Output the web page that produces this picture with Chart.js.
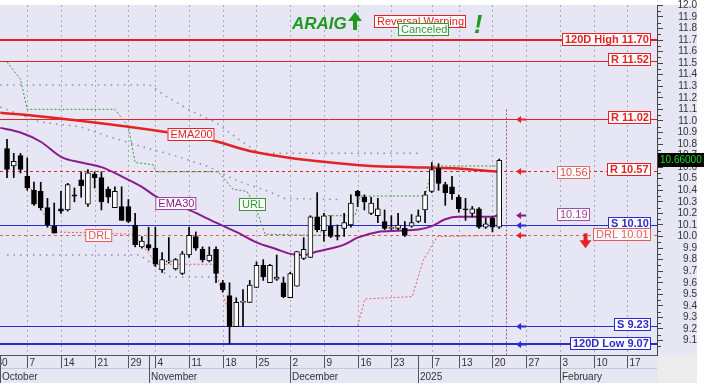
<!DOCTYPE html>
<html>
<head>
<meta charset="utf-8">
<script src="https://cdn.jsdelivr.net/npm/chart.js@4.4.1/dist/chart.umd.min.js"></script>
<style>
  html, body { margin: 0; padding: 0; background: #fff; }
  canvas { display: block; }
</style>
</head>
<body>
<canvas id="chart" width="704" height="390"></canvas>
<script>
// daily candles, index 0 = 2 Oct 2024 (trading days)
const opens  = [10.76, 10.61, 10.70, 10.52, 10.40, 10.39, 10.25, 10.09, 10.24, 10.23,
                10.36, 10.49, 10.28, 10.54, 10.51, 10.41, 10.25, 10.26, 10.26, 10.10,
                9.91, 9.93, 9.90, 9.71, 9.78, 9.72, 9.68, 9.84, 10.00, 9.89,
                9.79, 9.89, 9.60, 9.49, 9.22, 9.43, 9.43, 9.56, 9.75, 9.60,
                9.63, 9.60, 9.47, 9.57, 9.81, 9.82, 10.17, 10.05, 10.09, 10.01,
                10.07, 10.10, 10.39, 10.34, 10.20, 10.18, 10.13, 10.07, 10.07, 10.07,
                10.09, 10.13, 10.23, 10.39, 10.59, 10.45, 10.43, 10.34, 10.24, 10.20,
                10.24, 10.08, 10.16, 10.08];
const highs  = [10.84, 10.72, 10.72, 10.68, 10.47, 10.47, 10.33, 10.29, 10.39, 10.46,
                10.42, 10.56, 10.58, 10.56, 10.56, 10.43, 10.43, 10.43, 10.32, 10.20,
                10.00, 10.08, 10.08, 9.86, 9.99, 9.81, 9.87, 10.08, 10.04, 9.91,
                9.91, 9.91, 9.62, 9.60, 9.47, 9.54, 9.62, 9.78, 9.80, 9.76,
                9.84, 9.65, 9.69, 9.87, 9.99, 10.18, 10.38, 10.20, 10.18, 10.10,
                10.20, 10.36, 10.40, 10.36, 10.34, 10.33, 10.23, 10.18, 10.20, 10.13,
                10.19, 10.23, 10.39, 10.64, 10.63, 10.47, 10.52, 10.36, 10.33, 10.26,
                10.25, 10.16, 10.17, 10.67];
const lows   = [10.51, 10.51, 10.55, 10.40, 10.27, 10.23, 10.08, 10.03, 10.20, 10.22,
                10.30, 10.34, 10.26, 10.42, 10.23, 10.29, 10.25, 10.14, 10.12, 9.91,
                9.90, 9.88, 9.74, 9.69, 9.77, 9.71, 9.67, 9.82, 9.88, 9.78,
                9.78, 9.60, 9.52, 9.07, 9.22, 9.22, 9.43, 9.56, 9.62, 9.60,
                9.62, 9.47, 9.47, 9.57, 9.80, 9.82, 10.04, 9.96, 9.99, 9.97,
                10.00, 10.08, 10.26, 10.23, 10.19, 10.12, 10.06, 10.06, 10.06, 10.00,
                10.08, 10.12, 10.12, 10.38, 10.40, 10.27, 10.32, 10.21, 10.14, 10.17,
                10.07, 10.07, 10.04, 10.07];
const closes = [10.58, 10.65, 10.58, 10.42, 10.28, 10.25, 10.10, 10.03, 10.22, 10.45,
                10.35, 10.44, 10.55, 10.51, 10.30, 10.34, 10.39, 10.14, 10.13, 9.93,
                9.96, 9.90, 9.76, 9.80, 9.79, 9.80, 9.85, 10.01, 9.90, 9.80,
                9.84, 9.68, 9.54, 9.22, 9.43, 9.44, 9.58, 9.75, 9.65, 9.75,
                9.65, 9.48, 9.68, 9.87, 9.89, 10.17, 10.06, 10.18, 10.00, 10.00,
                10.12, 10.29, 10.35, 10.30, 10.29, 10.24, 10.07, 10.08, 10.10, 10.01,
                10.12, 10.18, 10.36, 10.58, 10.46, 10.38, 10.37, 10.24, 10.23, 10.24,
                10.08, 10.11, 10.08, 10.66];

// indicator lines, vertices (day index, price)
const ema200Idx = [-1, 4, 18, 24, 30, 36, 42, 48, 54, 60, 66, 73];
const ema200Val = [11.07, 11.045, 10.95, 10.90, 10.84, 10.74, 10.68, 10.64, 10.61, 10.60, 10.59, 10.56];
const ema30Idx  = [-1, 2, 5, 8, 11, 14, 17, 20, 22, 27, 31, 34, 37, 40, 42, 44, 46, 50, 52, 55, 58, 61, 63, 65, 67, 69, 71, 72, 73];
const ema30Val  = [10.94, 10.90, 10.82, 10.69, 10.64, 10.60, 10.52, 10.43, 10.35, 10.23, 10.12, 10.04, 9.95, 9.89, 9.85,
                   9.84, 9.87, 9.93, 9.99, 10.04, 10.05, 10.06, 10.09, 10.15, 10.17, 10.17, 10.17, 10.17, 10.19];
const urlIdx = [0, 2, 3, 16, 18, 19, 21.7, 22.1, 31.3, 33.5, 35.6, 36.8, 38.3, 46.4, 47.2, 51.6, 52.4, 62, 63.1, 73];
const urlVal = [11.51, 11.36, 11.10, 11.10, 10.95, 10.64, 10.62, 10.56, 10.56, 10.41, 10.39, 10.26, 10.02, 10.01, 10.18, 10.18, 10.35, 10.35, 10.61, 10.61];
const drlIdx = [2.7, 6.8, 18.7, 22.3, 30.6, 33.5, 40, 52, 53.1, 60.1, 61.7, 63.8, 73];
const drlVal = [10.51, 10.04, 10.02, 9.76, 9.76, 9.23, null, 9.23, 9.46, 9.48, 9.79, 10.00, 10.01];
const band1Idx = [-1, 21.2, 23.4, 27.2, 30.9, 34.6, 37.5, 61.3];
const band1Val = [11.31, 11.31, 11.22, 11.09, 10.99, 10.83, 10.72, 10.72];
const band2Idx = [-1, 4.9, 10.8, 15.3, 20.5, 24.9, 30.1, 33.8, 38.3, 41.2, 49.4];
const band2Val = [11.12, 10.99, 10.95, 10.86, 10.77, 10.70, 10.60, 10.49, 10.40, 10.33, 10.32];
const band3Idx = [0, 19.7, 24.2, 30.9];
const band3Val = [9.84, 9.84, 9.65, 9.65];

// horizontal levels
const levelVals  = [11.70, 11.52, 11.02, 10.57, 10.10, 10.01, 9.23, 9.07];
const levelNames = ['120D High', 'R', 'R', 'R', 'S', 'DRL', 'S', '120D Low'];

// axis labels
const dayTickIdx    = [-2, 3, 8, 13, 18, 22, 27, 32, 37, 42, 47, 52, 57, 63, 67, 72, 77, 82, 87, 92];
const dayTickLabels = ['30', '7', '14', '21', '29', '4', '11', '18', '25', '2', '9', '16', '23', '7', '13', '20', '27', '3', '10', '17'];
const monthIdx      = [-1.04, 21, 42, 61, 82];
const monthLabels   = ['October', 'November', 'December', '2025', 'February'];
const yTicks = [9.1, 9.2, 9.3, 9.4, 9.5, 9.6, 9.7, 9.8, 9.9, 10.0, 10.1, 10.2, 10.3, 10.4, 10.5,
                10.6, 10.7, 10.8, 10.9, 11.0, 11.1, 11.2, 11.3, 11.4, 11.5, 11.6, 11.7, 11.8, 11.9, 12.0];

const FONT = '"Liberation Sans", Arial, sans-serif';
const RED = '#e52222', BLUE = '#2b2bd0', PURPLE = '#8a1c8a', GREEN = '#2f9a2f';

// style for each level (same order as levelVals)
const levelStyle = [
  { color: RED,  width: 2, dash: [],     bold: true,  arrow: false },
  { color: RED,  width: 1, dash: [],     bold: true,  arrow: false },
  { color: RED,  width: 1, dash: [],     bold: true,  arrow: true },
  { color: RED,  width: 1, dash: [3, 3], bold: true,  arrow: true },
  { color: BLUE, width: 1, dash: [],     bold: true,  arrow: true },
  { color: '#e65a5a', width: 1, dash: [3, 3], bold: false, arrow: true },
  { color: BLUE, width: 1, dash: [],     bold: true,  arrow: true },
  { color: BLUE, width: 2, dash: [],     bold: true,  arrow: true }
];

const pts = (xs, ys) => xs.map((x, k) => ({ x: x, y: ys[k] }));

function lineSet(label, xs, ys, color, width, dash, order, smooth) {
  return {
    type: 'line', label: label, data: pts(xs, ys),
    borderColor: color, borderWidth: width, borderDash: dash,
    pointRadius: 0, fill: false, spanGaps: false, order: order,
    cubicInterpolationMode: smooth ? 'monotone' : 'default', tension: 0
  };
}

function labelBox(ctx, text, x, yc, color, textColor, bold, alignRight) {
  ctx.save();
  ctx.font = (bold ? 'bold ' : '') + '11px ' + FONT;
  const w = Math.round(ctx.measureText(text).width) + 5;
  const left = alignRight ? x - w : x;
  const top = Math.round(yc - 6.5);
  ctx.fillStyle = '#fff';
  ctx.fillRect(left, top, w, 13);
  ctx.strokeStyle = color;
  ctx.lineWidth = 1;
  ctx.setLineDash([]);
  ctx.strokeRect(left + 0.5, top + 0.5, w - 1, 12);
  ctx.fillStyle = textColor;
  ctx.textBaseline = 'middle';
  ctx.textAlign = 'left';
  ctx.fillText(text, left + 3, top + 7);
  ctx.restore();
}

function leftArrow(ctx, x, y, color) {
  ctx.save();
  ctx.fillStyle = color;
  ctx.strokeStyle = color;
  ctx.lineWidth = 2;
  ctx.beginPath(); ctx.moveTo(x + 3, y); ctx.lineTo(x + 10, y); ctx.stroke();
  ctx.beginPath(); ctx.moveTo(x, y); ctx.lineTo(x + 5, y - 3.5); ctx.lineTo(x + 5, y + 3.5); ctx.closePath(); ctx.fill();
  ctx.restore();
}

const overlay = {
  id: 'overlay',
  beforeDraw(chart) {
    const { ctx, chartArea: a } = chart;
    ctx.save();
    ctx.fillStyle = '#fff';
    ctx.fillRect(0, 0, chart.width, chart.height);
    ctx.fillStyle = '#e6e6f5';
    ctx.fillRect(0, a.top, 697, 383 - a.top);
    ctx.fillStyle = '#ececec';
    ctx.fillRect(a.right + 1, a.bottom, 697 - a.right - 1, 383 - a.bottom);
    ctx.restore();
  },
  beforeDatasetsDraw(chart) {
    const { ctx, chartArea: a, scales: { x, y } } = chart;
    ctx.save();
    ctx.beginPath(); ctx.rect(a.left, a.top, a.right - a.left, a.bottom - a.top); ctx.clip();
    // vertical grid
    ctx.strokeStyle = '#a9a9bb';
    ctx.lineWidth = 1;
    ctx.setLineDash([2, 3]);
    dayTickIdx.forEach(i => {
      const px = Math.round(x.getPixelForValue(i)) + 0.5;
      ctx.beginPath(); ctx.moveTo(px, a.top); ctx.lineTo(px, a.bottom); ctx.stroke();
    });
    // projection line
    const vx = Math.round(x.getPixelForValue(74)) + 0.5;
    ctx.strokeStyle = '#a0508a';
    ctx.setLineDash([2, 2]);
    ctx.beginPath(); ctx.moveTo(vx, y.getPixelForValue(11.1)); ctx.lineTo(vx, a.bottom); ctx.stroke();
    // level lines
    levelVals.forEach((v, k) => {
      const s = levelStyle[k];
      const py = Math.round(y.getPixelForValue(v)) + (s.width === 1 ? 0.5 : 0);
      ctx.strokeStyle = s.color;
      ctx.lineWidth = s.width;
      ctx.setLineDash(s.dash);
      ctx.beginPath(); ctx.moveTo(a.left, py); ctx.lineTo(a.right, py); ctx.stroke();
    });
    ctx.restore();
  },
  afterDatasetsDraw(chart) {
    const { ctx, chartArea: a, scales: { x, y } } = chart;
    const ax = x.getPixelForValue(75.5);
    // level labels and arrows
    levelVals.forEach((v, k) => {
      const s = levelStyle[k];
      const py = y.getPixelForValue(v);
      labelBox(ctx, levelNames[k] + ' ' + v.toFixed(2), a.right - 6, py - 1, s.color, s.color, s.bold, true);
      if (s.arrow) leftArrow(ctx, ax, Math.round(py) + 0.5, s.color === '#e65a5a' ? RED : s.color);
    });
    // current indicator values
    const e200 = ema200Val[ema200Val.length - 1];
    const e30 = ema30Val[ema30Val.length - 1];
    labelBox(ctx, e200.toFixed(2), a.right - 100, y.getPixelForValue(e200) + 1, '#e86a6a', '#e05050', false, false);
    labelBox(ctx, e30.toFixed(2), a.right - 100, y.getPixelForValue(e30), '#a050a0', '#a040a0', false, false);
    leftArrow(ctx, ax, Math.round(y.getPixelForValue(e30)) + 0.5, PURPLE);
    // line labels
    labelBox(ctx, 'EMA200', x.getPixelForValue(23.8), y.getPixelForValue(10.885), RED, RED, false, false);
    labelBox(ctx, 'EMA30', x.getPixelForValue(22), y.getPixelForValue(10.29), '#a040a0', PURPLE, false, false);
    labelBox(ctx, 'URL', x.getPixelForValue(34.4), y.getPixelForValue(10.28), GREEN, GREEN, false, false);
    labelBox(ctx, 'DRL', x.getPixelForValue(11.6), y.getPixelForValue(10.01), '#e65a5a', '#e65a5a', false, false);
    // big red down arrow
    const dx = x.getPixelForValue(85.8), dy = y.getPixelForValue(10.01);
    ctx.save();
    ctx.fillStyle = RED;
    ctx.fillRect(dx - 2, dy - 2, 4, 8);
    ctx.beginPath(); ctx.moveTo(dx - 6, dy + 5); ctx.lineTo(dx + 6, dy + 5); ctx.lineTo(dx, dy + 13); ctx.closePath(); ctx.fill();
    ctx.restore();
  },
  afterDraw(chart) {
    const { ctx, chartArea: a, scales: { x, y } } = chart;
    ctx.save();
    // x-axis band
    ctx.fillStyle = '#e6e6f5';
    ctx.fillRect(0, a.bottom, a.right, 383 - a.bottom);
    ctx.strokeStyle = '#555';
    ctx.lineWidth = 1;
    ctx.beginPath(); ctx.moveTo(0, a.bottom + 0.5); ctx.lineTo(a.right, a.bottom + 0.5); ctx.stroke();
    ctx.strokeStyle = '#c8c8d8';
    ctx.beginPath(); ctx.moveTo(0, a.bottom + 13.5); ctx.lineTo(a.right, a.bottom + 13.5); ctx.stroke();
    ctx.beginPath(); ctx.rect(0, a.bottom, a.right, 390 - a.bottom); ctx.clip();
    ctx.font = '10px ' + FONT;
    ctx.textBaseline = 'alphabetic';
    ctx.strokeStyle = '#555';
    dayTickIdx.forEach((i, k) => {
      const px = Math.round(x.getPixelForValue(i)) + 0.5;
      ctx.beginPath(); ctx.moveTo(px, a.bottom); ctx.lineTo(px, a.bottom + 13); ctx.stroke();
      ctx.fillStyle = '#333';
      ctx.fillText(dayTickLabels[k], px + 2, a.bottom + 11);
    });
    monthIdx.forEach((i, k) => {
      const px = Math.round(x.getPixelForValue(i)) + 0.5;
      ctx.beginPath(); ctx.moveTo(px, a.bottom); ctx.lineTo(px, a.bottom + 28); ctx.stroke();
      ctx.fillStyle = '#333';
      ctx.fillText(monthLabels[k], px + 1.5, a.bottom + 25);
    });
    ctx.restore();

    // minor ticks on the price axis
    ctx.save();
    ctx.strokeStyle = '#444';
    ctx.lineWidth = 1;
    yTicks.forEach(v => {
      const py = Math.round(y.getPixelForValue(v - 0.05)) + 0.5;
      ctx.beginPath(); ctx.moveTo(a.right, py); ctx.lineTo(a.right + 4, py); ctx.stroke();
    });
    // last price tag
    const last = closes[closes.length - 1];
    const ly = y.getPixelForValue(last);
    ctx.fillStyle = '#000';
    ctx.fillRect(a.right + 1, Math.round(ly - 7), 704 - a.right - 1, 14);
    ctx.fillStyle = '#22dd22';
    ctx.font = '10px ' + FONT;
    ctx.textBaseline = 'middle';
    ctx.fillText(last.toFixed(5), a.right + 3, ly);

    // title annotations
    ctx.fillStyle = '#1f9a1f';
    ctx.textBaseline = 'alphabetic';
    ctx.font = 'italic bold 17px ' + FONT;
    ctx.fillText('ARAIG', 292, 29);
    ctx.fillRect(353, 20, 4, 10);
    ctx.beginPath(); ctx.moveTo(348, 21); ctx.lineTo(355, 12); ctx.lineTo(362, 21); ctx.closePath(); ctx.fill();
    ctx.font = 'italic bold 25px ' + FONT;
    ctx.fillText('!', 474, 33);
    ctx.restore();
    labelBox(ctx, 'Reversal Warning', 374, 21, RED, RED, false, false);
    labelBox(ctx, 'Canceled', 398, 29, GREEN, GREEN, false, false);
  }
};

const bodyColors = opens.map((o, i) => closes[i] >= o ? '#ffffff' : '#000000');

new Chart(document.getElementById('chart'), {
  type: 'bar',
  data: {
    datasets: [
      {
        label: 'wick', data: highs.map((h, i) => ({ x: i, y: [lows[i], h] })),
        backgroundColor: '#000', barThickness: 1, grouped: false, order: 1
      },
      {
        label: 'body', data: opens.map((o, i) => ({ x: i, y: [o, closes[i]] })),
        backgroundColor: bodyColors, borderColor: '#000', borderWidth: 1,
        borderSkipped: false, barThickness: 5, grouped: false, order: 0
      },
      lineSet('EMA200', ema200Idx, ema200Val, RED, 2.5, [], 2, true),
      lineSet('EMA30', ema30Idx, ema30Val, PURPLE, 2, [], 3, true),
      lineSet('URL', urlIdx, urlVal, '#3a9a3a', 1, [2, 2], 4, false),
      lineSet('DRL', drlIdx, drlVal, '#e65a5a', 1, [2, 2], 5, false),
      lineSet('band1', band1Idx, band1Val, '#8e8ea4', 1.5, [1.5, 5], 6, false),
      lineSet('band2', band2Idx, band2Val, '#8e8ea4', 1.5, [1.5, 5], 7, false),
      lineSet('band3', band3Idx, band3Val, '#8e8ea4', 1.5, [1.5, 5], 8, false)
    ]
  },
  options: {
    responsive: false,
    animation: false,
    devicePixelRatio: 1,
    layout: { padding: { top: 5, right: 7, bottom: 35, left: 0 } },
    plugins: { legend: { display: false }, tooltip: { enabled: false } },
    scales: {
      x: { type: 'linear', min: -1.04, max: 96.4, offset: false, display: false },
      y: {
        position: 'right', min: 8.975, max: 12.003,
        afterBuildTicks: s => { s.ticks = yTicks.map(v => ({ value: v })); },
        afterFit: s => { s.width = 40; s.paddingTop = 0; s.paddingBottom = 0; },
        grid: { drawOnChartArea: false, drawTicks: true, tickLength: 6, color: '#444' },
        border: { color: '#444' },
        ticks: {
          autoSkip: false, padding: 14, crossAlign: 'far', color: '#333',
          font: { family: FONT, size: 10 },
          callback: v => Number(v).toFixed(1)
        }
      }
    }
  },
  plugins: [overlay]
});
</script>
</body>
</html>
